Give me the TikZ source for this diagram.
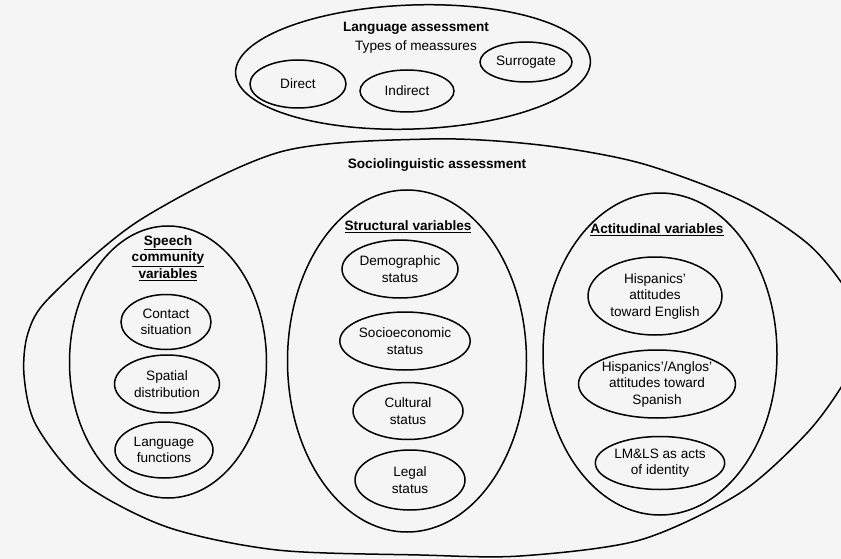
\documentclass[tikz,border=0pt]{standalone}
\usepackage{fontspec}
\setmainfont{Liberation Sans}
\usetikzlibrary{shapes.geometric}

\begin{document}
\begin{tikzpicture}[
  x=1pt, y=-1pt,
  every node/.style={font=\fontsize{13.6}{16.5}\selectfont},
  line/.style={line width=1.5pt},
  oval/.style={line, draw, ellipse, inner sep=0pt, align=center},
  title/.style={font=\fontsize{13.6}{16.5}\selectfont\bfseries, align=center}
]
  \useasboundingbox[fill=black!4] (0,0) rectangle (841,559);

  % sociolinguistic assessment (outer egg)
  \draw[line] plot[smooth cycle] coordinates {
    (50,297) (140,220) (280,152) (430,139) (540,145) (640,163)
    (740,200) (807,243) (845,288) (866,335) (845,381) (807,433) (740,493)
    (640,540) (520,556) (420,555) (277,550) (167,527) (83,483) (36,425)
    (24,375) (28,333)};
  \node[title] (socio) at (437,165) {Sociolinguistic assessment};

  % language assessment
  \node[oval, minimum width=355, minimum height=124, rotate=2] (lang) at (413,67) {};
  \node[title] (langlbl) at (416,28) {Language assessment};
  \node (types) at (416,47) {Types of meassures};
  \node[oval, minimum width=96, minimum height=48] (direct) at (298,84) {Direct};
  \node[oval, minimum width=94, minimum height=42] (indirect) at (407,91) {Indirect};
  \node[oval, minimum width=92, minimum height=40] (surrogate) at (526,62) {Surrogate};

  % speech community variables
  \node[oval, minimum width=197, minimum height=272] (speech) at (168,362) {};
  \node[title] (speechlbl) at (168,258)
    {\underline{Speech}\\\underline{community}\\\underline{variables}};
  \node[oval, minimum width=90, minimum height=55] (contact) at (166,322) {Contact\\situation};
  \node[oval, minimum width=105, minimum height=58] (spatial) at (167,384) {Spatial\\distribution};
  \node[oval, minimum width=98, minimum height=56] (functions) at (164,450) {Language\\functions};

  % structural variables
  \node[oval, minimum width=239, minimum height=342] (struct) at (407,361) {};
  \node[title] (structlbl) at (408,227) {\underline{Structural variables}};
  \node[oval, minimum width=116, minimum height=58] (demo) at (400,269) {Demographic\\status};
  \node[oval, minimum width=127, minimum height=58] (socioeco) at (405,341) {Socioeconomic\\status};
  \node[oval, minimum width=110, minimum height=57] (cultural) at (408,411) {Cultural\\status};
  \node[oval, minimum width=110, minimum height=60] (legal) at (410,480) {Legal\\status};

  % actitudinal variables
  \node[oval, minimum width=234, minimum height=322] (attit) at (660,354) {};
  \node[title] (attitlbl) at (657,230) {\underline{Actitudinal variables}};
  \node[oval, minimum width=134, minimum height=78] (hispeng) at (655,296)
    {Hispanics'\\attitudes\\toward English};
  \node[oval, minimum width=157, minimum height=68] (hispspa) at (657,384)
    {Hispanics'/Anglos'\\attitudes toward\\Spanish};
  \node[oval, minimum width=126, minimum height=53] (identity) at (660,463)
    {LM\&LS as acts\\of identity};
\end{tikzpicture}
\end{document}
